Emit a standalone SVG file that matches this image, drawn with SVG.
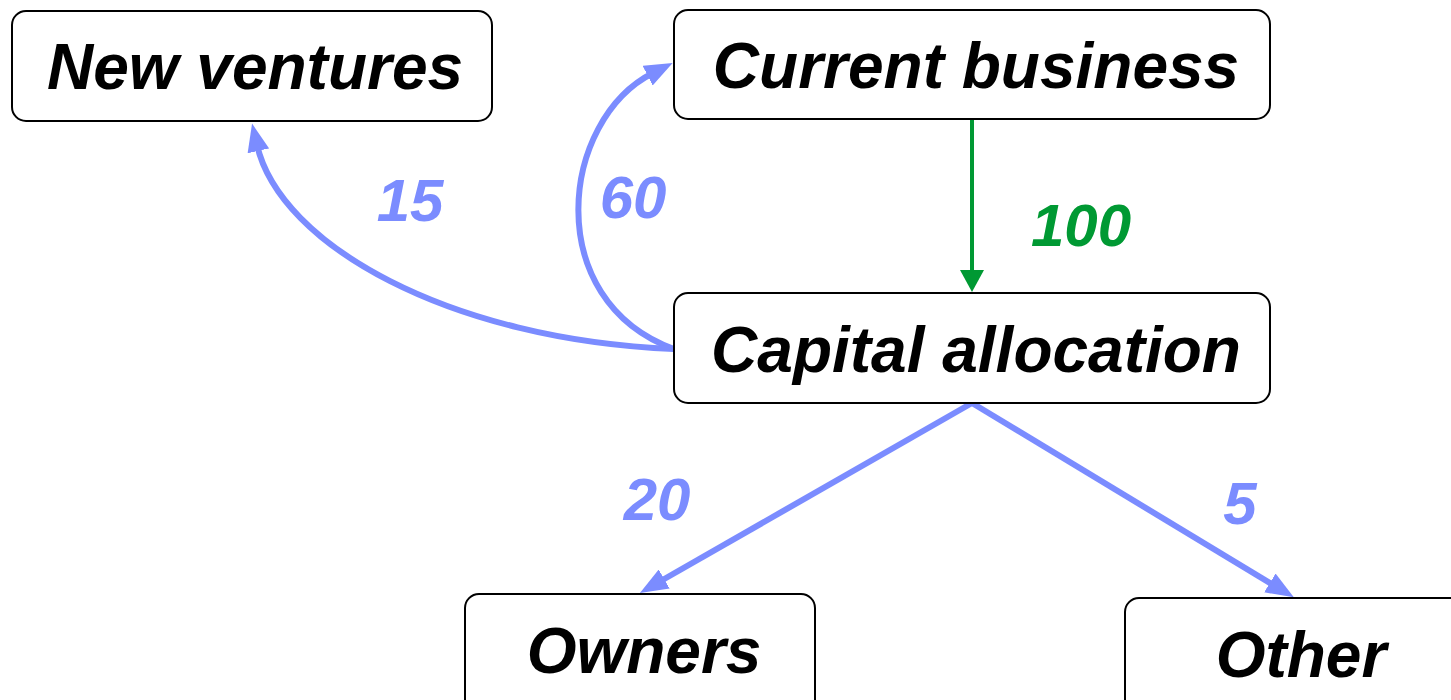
<svg xmlns="http://www.w3.org/2000/svg" width="1451" height="700" viewBox="0 0 1451 700">
  <style>
    .box { fill: #ffffff; stroke: #000000; stroke-width: 2; }
    .name { font-family: "Liberation Sans", Arial, sans-serif; font-weight: bold; font-style: italic; font-size: 64px; fill: #000000; text-anchor: middle; }
    .qty { font-family: "Liberation Sans", Arial, sans-serif; font-weight: bold; font-style: italic; font-size: 60px; text-anchor: middle; }
    .blue { fill: #7b8cff; }
    .green { fill: #009933; }
    .flow { fill: none; stroke: #7b8cff; stroke-width: 6; }
    .flow-in { fill: none; stroke: #009933; stroke-width: 4; }
  </style>
  <defs>
    <marker id="head-blue" markerUnits="userSpaceOnUse" markerWidth="28" markerHeight="22" refX="6" refY="11" orient="auto">
      <path d="M0,0 L28,11 L0,22 z" fill="#7b8cff"/>
    </marker>
    <marker id="head-green" markerUnits="userSpaceOnUse" markerWidth="22" markerHeight="24" refX="2" refY="12" orient="auto">
      <path d="M0,0 L22,12 L0,24 z" fill="#009933"/>
    </marker>
  </defs>

  <rect width="1451" height="700" fill="#ffffff"/>

  <g id="connectors">
    <path class="flow-in" d="M972,119 L972,272" marker-end="url(#head-green)"/>
    <path class="flow" d="M674,349 C540,300 560,120 653,73" marker-end="url(#head-blue)"/>
    <path class="flow" d="M674,349 C450,340 280,245 257,145" marker-end="url(#head-blue)"/>
    <path class="flow" d="M972,403 L659,582" marker-end="url(#head-blue)"/>
    <path class="flow" d="M972,403 L1275,586" marker-end="url(#head-blue)"/>
  </g>

  <g id="labels">
    <text class="qty blue" x="410" y="221">15</text>
    <text class="qty blue" x="633" y="218">60</text>
    <text class="qty green" x="1081" y="246">100</text>
    <text class="qty blue" x="657" y="520">20</text>
    <text class="qty blue" x="1240" y="524">5</text>
  </g>

  <g id="new-ventures">
    <rect class="box" x="12" y="11" width="480" height="110" rx="14"/>
    <text class="name" x="255" y="89">New ventures</text>
  </g>

  <g id="current-business">
    <rect class="box" x="674" y="10" width="596" height="109" rx="14"/>
    <text class="name" x="976" y="88">Current business</text>
  </g>

  <g id="capital-allocation">
    <rect class="box" x="674" y="293" width="596" height="110" rx="14"/>
    <text class="name" x="976" y="372">Capital allocation</text>
  </g>

  <g id="owners">
    <rect class="box" x="465" y="594" width="350" height="130" rx="14"/>
    <text class="name" x="644" y="673">Owners</text>
  </g>

  <g id="other">
    <rect class="box" x="1125" y="598" width="340" height="130" rx="14"/>
    <text class="name" x="1301" y="677">Other</text>
  </g>
</svg>
